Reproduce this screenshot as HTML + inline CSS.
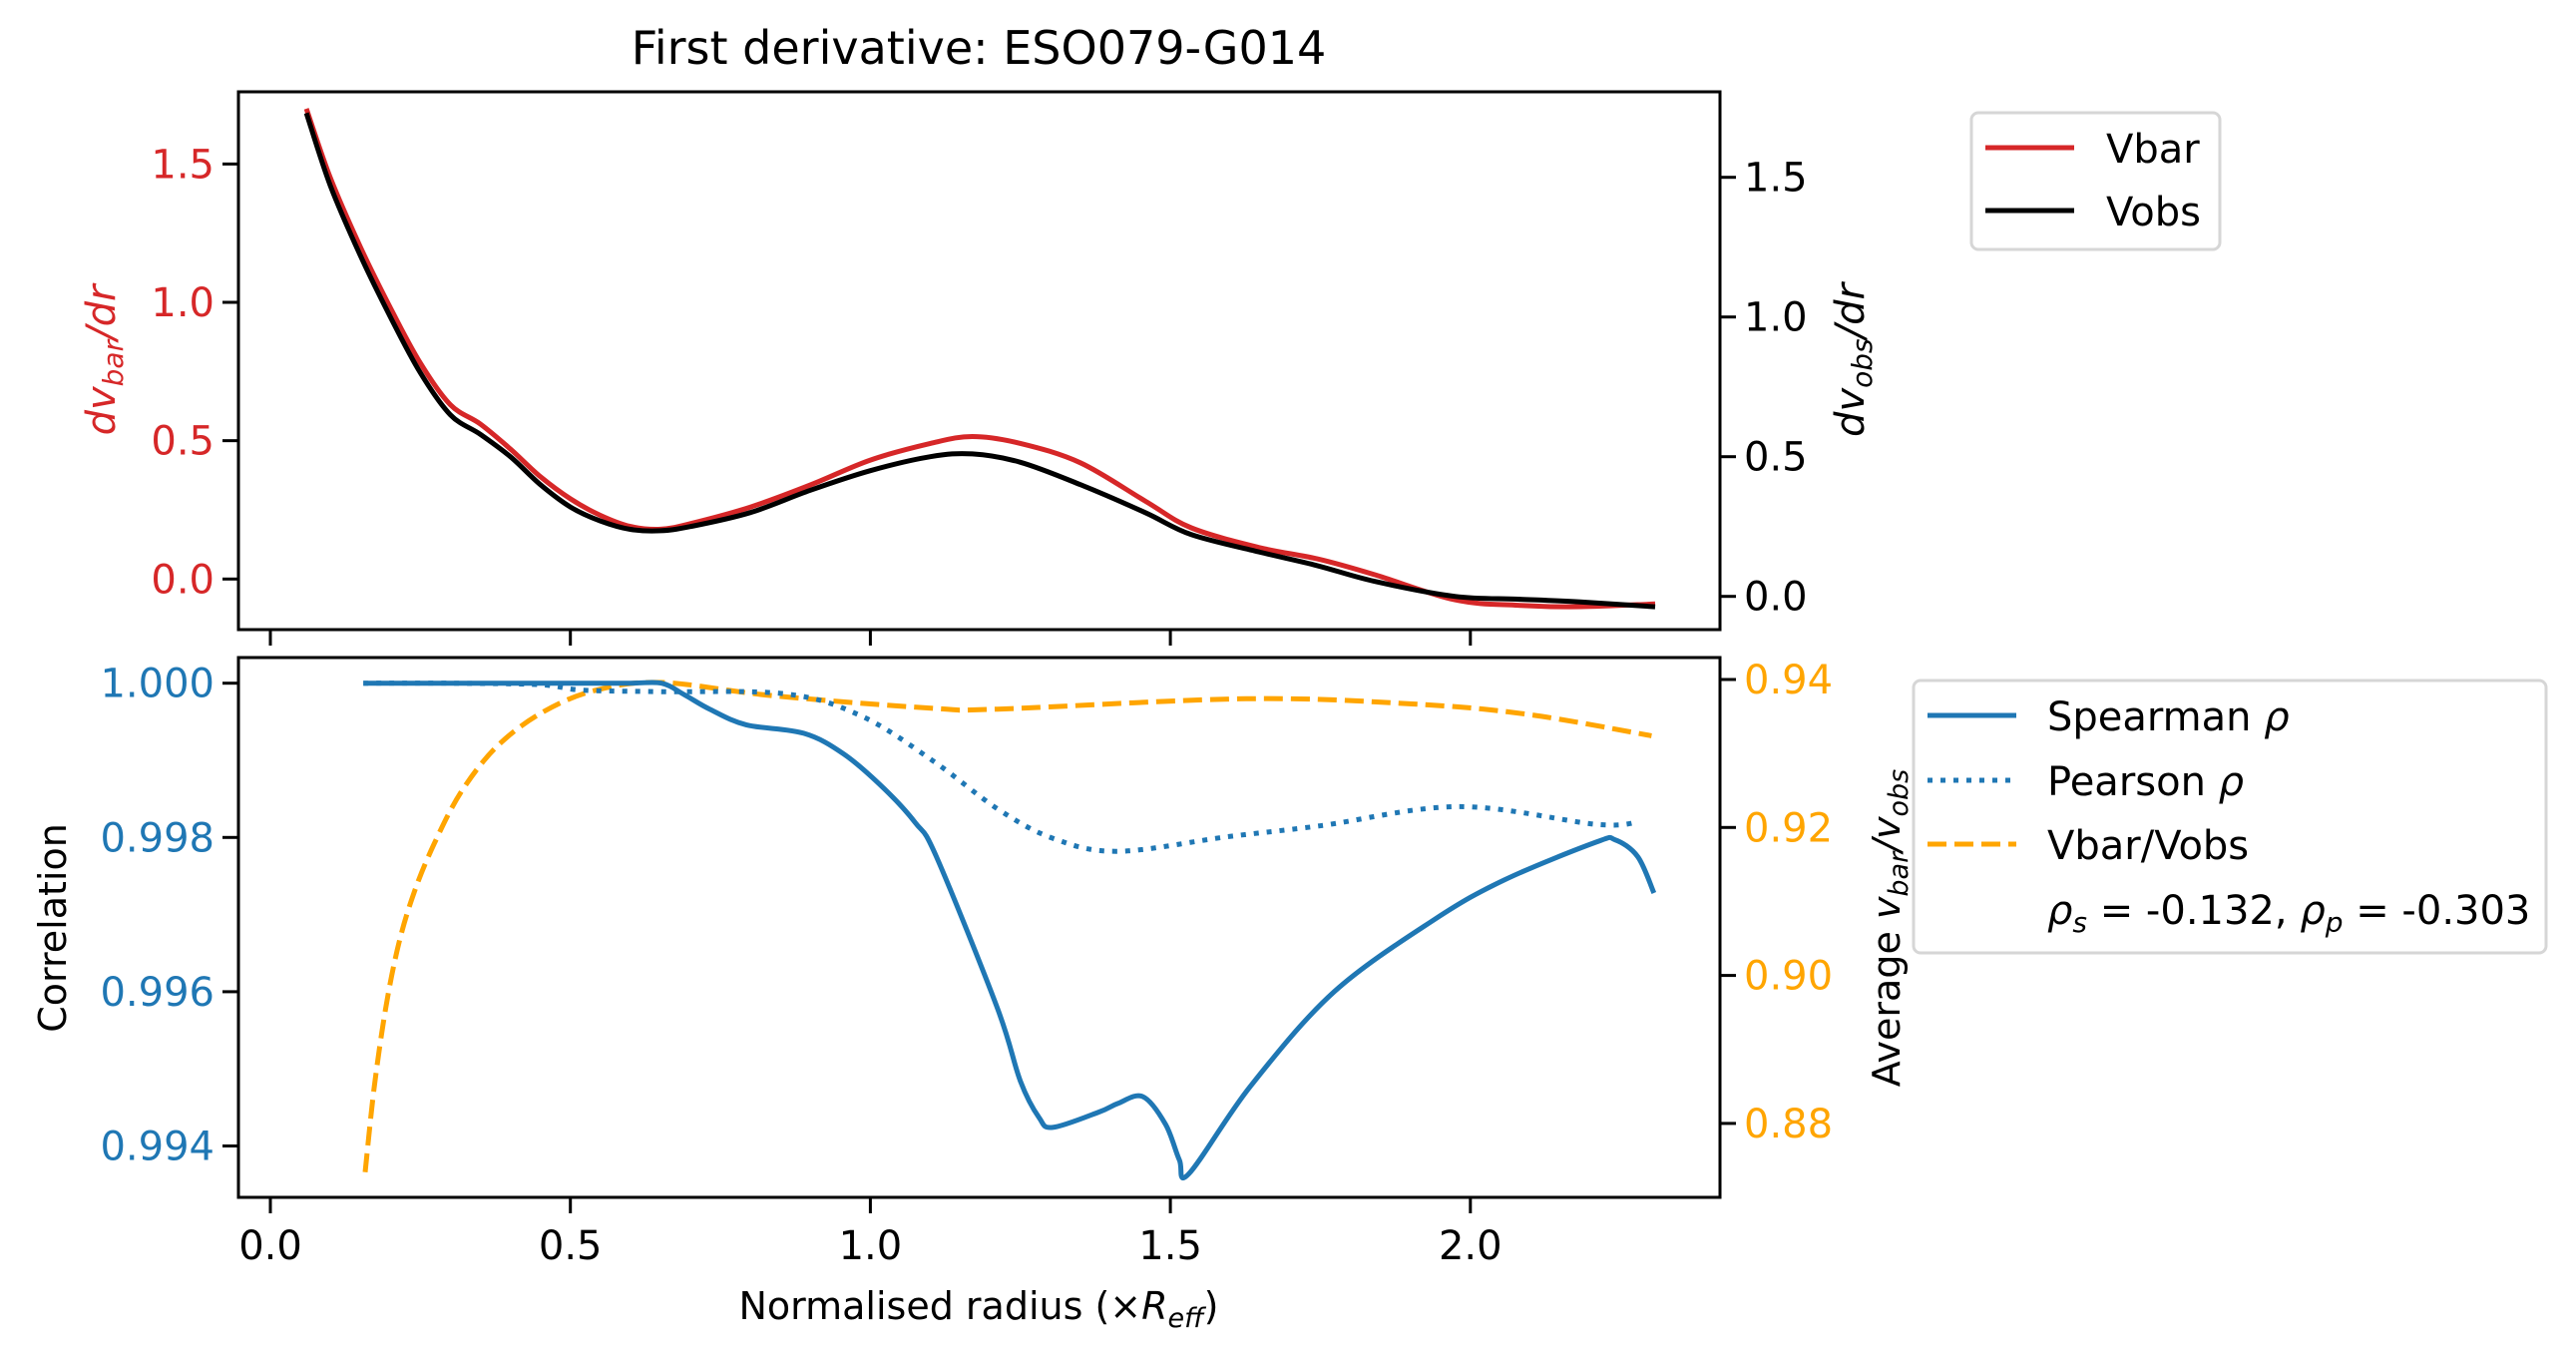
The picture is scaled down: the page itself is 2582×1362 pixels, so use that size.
<!DOCTYPE html>
<html><head><meta charset="utf-8"><style>
html,body{margin:0;padding:0;background:#fff}
svg{display:block;font-family:"DejaVu Sans","Liberation Sans",sans-serif}
</style></head><body>
<svg id="chart" width="2582" height="1362" viewBox="0 0 2582 1362">
<text x="981" y="64" font-size="46" text-anchor="middle">First derivative: ESO079-G014</text>
<g id="topPanel"></g>
<g id="botPanel"></g>
<g>
<rect x="1976" y="113" width="249" height="137" rx="7" fill="#fff" stroke="#d6d6d6" stroke-width="3"/>
<line x1="1990" y1="148" x2="2079" y2="148" stroke="#d62728" stroke-width="5"/>
<text x="2111" y="163" font-size="40">Vbar</text>
<line x1="1990" y1="211" x2="2079" y2="211" stroke="#000" stroke-width="5"/>
<text x="2111" y="226" font-size="40">Vobs</text>
</g>
<g>
<rect x="1918" y="682" width="634" height="273" rx="7" fill="#fff" stroke="#d6d6d6" stroke-width="3"/>
<line x1="1932" y1="717" x2="2021" y2="717" stroke="#1f77b4" stroke-width="5"/>
<text x="2052" y="732" font-size="40">Spearman <tspan font-style="italic">ρ</tspan></text>
<line x1="1932" y1="782" x2="2021" y2="782" stroke="#1f77b4" stroke-width="5" stroke-dasharray="5 8"/>
<text x="2052" y="797" font-size="40">Pearson <tspan font-style="italic">ρ</tspan></text>
<line x1="1932" y1="846" x2="2021" y2="846" stroke="orange" stroke-width="5" stroke-dasharray="19 8"/>
<text x="2052" y="861" font-size="40">Vbar/Vobs</text>
<text x="2052" y="926" font-size="40"><tspan font-style="italic">ρ</tspan><tspan font-size="28" dy="8" font-style="italic">s</tspan><tspan dy="-8"> = -0.132, </tspan><tspan font-style="italic">ρ</tspan><tspan font-size="28" dy="8" font-style="italic">p</tspan><tspan dy="-8"> = -0.303</tspan></text>
</g>
<text x="981" y="1322" font-size="38" text-anchor="middle">Normalised radius (×<tspan font-style="italic">R</tspan><tspan font-style="italic" font-size="27" dy="8">eff</tspan><tspan dy="-8">)</tspan></text>
<text transform="translate(115,361) rotate(-90)" font-size="40" fill="#d62728" text-anchor="middle" font-style="italic">dv<tspan font-size="28" dy="8">bar</tspan><tspan dy="-8">/dr</tspan></text>
<text transform="translate(1868,361) rotate(-90)" font-size="40" text-anchor="middle" font-style="italic">dv<tspan font-size="28" dy="8">obs</tspan><tspan dy="-8">/dr</tspan></text>
<text transform="translate(66,930) rotate(-90)" font-size="38" text-anchor="middle">Correlation</text>
<text transform="translate(1904,930) rotate(-90)" font-size="38" text-anchor="middle">Average <tspan font-style="italic">v</tspan><tspan font-style="italic" font-size="27" dy="8">bar</tspan><tspan font-style="italic" dy="-8">/v</tspan><tspan font-style="italic" font-size="27" dy="8">obs</tspan></text>
</svg>
<script>
const xTicks=[0.0,0.5,1.0,1.5,2.0];
const xTickLabels=["0.0","0.5","1.0","1.5","2.0"];
const vbarR=[0.06,0.1,0.15,0.2,0.25,0.3,0.35,0.4,0.45,0.5,0.55,0.6,0.65,0.7,0.8,0.9,1.0,1.1,1.17,1.25,1.35,1.458,1.535,1.65,1.745,1.84,1.974,2.08,2.183,2.308];
const vbarVals=[1.70,1.45,1.2,0.98,0.78,0.63,0.56,0.47,0.37,0.29,0.23,0.19,0.18,0.20,0.26,0.34,0.43,0.49,0.515,0.49,0.42,0.282,0.185,0.113,0.073,0.016,-0.075,-0.095,-0.10,-0.09];
const vobsVals=[1.73,1.47,1.22,1.0,0.80,0.65,0.58,0.50,0.40,0.32,0.27,0.24,0.235,0.25,0.30,0.38,0.45,0.50,0.51,0.48,0.40,0.30,0.221,0.158,0.11,0.054,0.0,-0.01,-0.02,-0.037];
const leftTopTicks=[0.0,0.5,1.0,1.5];
const rightTopTicks=[0.0,0.5,1.0,1.5];
const spR=[0.155,0.3,0.5,0.6,0.652,0.69,0.733,0.793,0.889,0.956,1.022,1.075,1.11,1.212,1.25,1.281,1.304,1.381,1.412,1.454,1.492,1.515,1.531,1.634,1.773,1.941,2.057,2.21,2.241,2.279,2.306];
const spVals=[1.0,1.0,1.0,1.0,1.0,0.99985,0.99966,0.99946,0.99935,0.99908,0.99864,0.99819,0.99775,0.99578,0.99484,0.99437,0.99424,0.99444,0.99455,0.99464,0.99428,0.99382,0.99364,0.99478,0.996,0.99694,0.99745,0.99794,0.99797,0.99775,0.99728];
const peR=[0.155,0.3,0.45,0.52,0.652,0.86,0.986,1.105,1.212,1.304,1.412,1.596,1.749,1.98,2.21,2.28];
const peVals=[1.0,1.0,0.99998,0.99991,0.99989,0.99986,0.99957,0.99899,0.99837,0.99799,0.99782,0.99801,0.99815,0.9984,0.99817,0.9982];
const raR=[0.158,0.173,0.192,0.214,0.24,0.273,0.318,0.377,0.452,0.54,0.652,0.838,1.105,1.212,1.626,1.903,2.095,2.302];
const raVals=[0.8734,0.8848,0.8955,0.9043,0.9113,0.9178,0.9248,0.9309,0.9355,0.9385,0.9396,0.9378,0.9361,0.936,0.9374,0.9367,0.9353,0.9324];
const corrTicks=[0.994,0.996,0.998,1.000];
const corrLabels=["0.994","0.996","0.998","1.000"];
const ratioTicks=[0.88,0.90,0.92,0.94];
const ratioLabels=["0.88","0.90","0.92","0.94"];

const NS="http://www.w3.org/2000/svg";
const X0=239,X1=1724,T0=92,T1=631,B0=659,B1=1200;
const xs=r=>271+r*601.4;
const yTL=v=>580.3-v*277.3;
const yTR=v=>597.7-v*280;
const yBL=c=>684.7+(1-c)/0.002*154.6;
const yBR=v=>681+(0.94-v)/0.02*148.3;
function mk(p,tag,a){const e=document.createElementNS(NS,tag);for(const k in a)e.setAttribute(k,a[k]);p.appendChild(e);return e;}
function path(p,xsArr,ys,ymap,stroke,dash,name){
  const P=xsArr.map((r,i)=>[xs(r),ymap(ys[i])]);
  let d='M'+P[0][0].toFixed(1)+' '+P[0][1].toFixed(1);
  for(let i=0;i<P.length-1;i++){
    const p0=P[i-1]||P[i],p1=P[i],p2=P[i+1],p3=P[i+2]||p2;
    const c1=[p1[0]+(p2[0]-p0[0])/6,p1[1]+(p2[1]-p0[1])/6];
    const c2=[p2[0]-(p3[0]-p1[0])/6,p2[1]-(p3[1]-p1[1])/6];
    d+=' C'+c1[0].toFixed(1)+' '+c1[1].toFixed(1)+' '+c2[0].toFixed(1)+' '+c2[1].toFixed(1)+' '+p2[0].toFixed(1)+' '+p2[1].toFixed(1);
  }
  const e=mk(p,'path',{d:d,fill:'none',stroke:stroke,'stroke-width':5,'stroke-linejoin':'round'});
  if(dash)e.setAttribute('stroke-dasharray',dash);
  
  
}
function ticks(p,vals,labels,ymap,side,color,name){
  vals.forEach((v,i)=>{
    const y=ymap(v);
    const x=side==='l'?X0:X1;
    const t=mk(p,'line',{x1:x,y1:y,x2:side==='l'?x-16:x+16,y2:y,stroke:'#000','stroke-width':3});
    
    
    const tx=mk(p,'text',{x:side==='l'?x-24:x+24,y:y+14,'font-size':40,fill:color,'text-anchor':side==='l'?'end':'start'});
    tx.textContent=labels[i];
    
    
  });
}
const gTop=document.getElementById('topPanel'), gBot=document.getElementById('botPanel');
path(gTop,vbarR,vbarVals,yTL,'#d62728',null,'vbar-line');
path(gTop,vbarR,vobsVals,yTR,'#000',null,'vobs-line');
mk(gTop,'rect',{x:X0,y:T0,width:X1-X0,height:T1-T0,fill:'none',stroke:'#000','stroke-width':3});
ticks(gTop,leftTopTicks,leftTopTicks.map(v=>v.toFixed(1)),yTL,'l','#d62728','left-top-y');
ticks(gTop,rightTopTicks,rightTopTicks.map(v=>v.toFixed(1)),yTR,'r','#000','right-top-y');
xTicks.forEach(r=>{const t=mk(gTop,'line',{x1:xs(r),y1:T1,x2:xs(r),y2:T1+16,stroke:'#000','stroke-width':3});

});
path(gBot,raR,raVals,yBR,'orange','19 8','ratio-line');
path(gBot,peR,peVals,yBL,'#1f77b4','5 8','pearson-line');
path(gBot,spR,spVals,yBL,'#1f77b4',null,'spearman-line');
mk(gBot,'rect',{x:X0,y:B0,width:X1-X0,height:B1-B0,fill:'none',stroke:'#000','stroke-width':3});
ticks(gBot,corrTicks,corrLabels,yBL,'l','#1f77b4','correlation-y');
ticks(gBot,ratioTicks,ratioLabels,yBR,'r','orange','ratio-y');
xTicks.forEach((r,i)=>{const t=mk(gBot,'line',{x1:xs(r),y1:B1,x2:xs(r),y2:B1+16,stroke:'#000','stroke-width':3});


const tx=mk(gBot,'text',{x:xs(r),y:B1+62,'font-size':40,'text-anchor':'middle'});
tx.textContent=xTickLabels[i];

});
</script>
</body></html>
